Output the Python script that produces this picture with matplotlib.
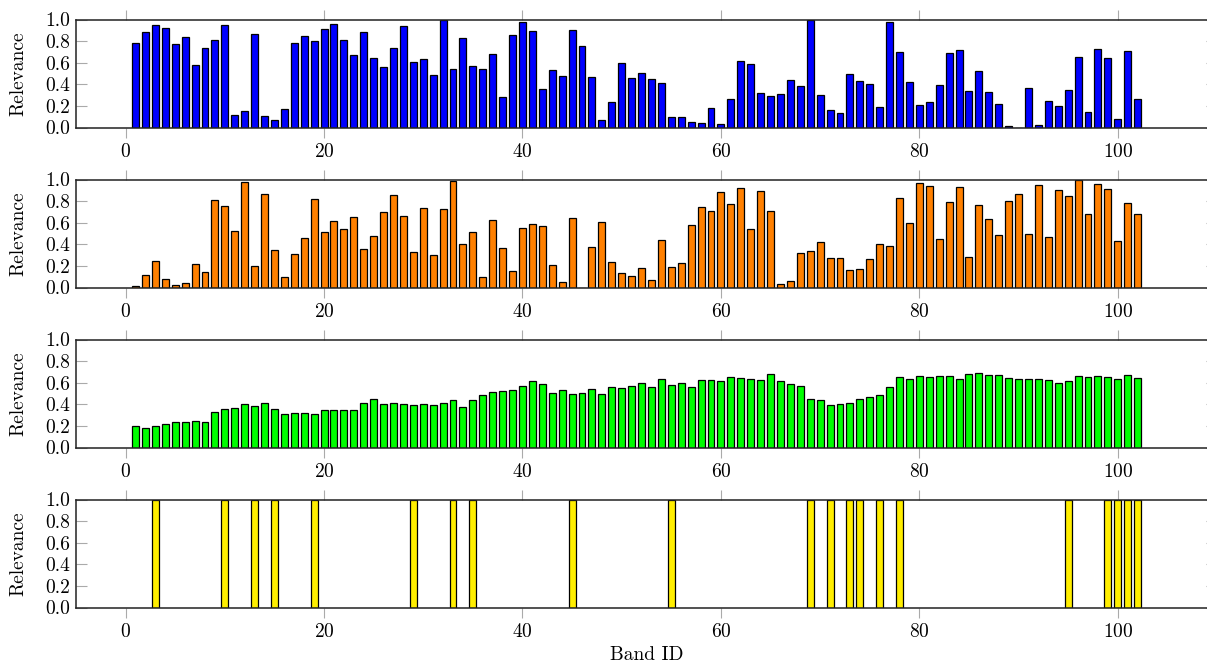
import matplotlib
matplotlib.use("Agg")
import matplotlib.pyplot as plt
import numpy as np

# band ids 1..102
band_ids = list(range(1, 103))

# relevance values
blue_vals = [0.78, 0.88, 0.95, 0.925, 0.77, 0.84, 0.58, 0.74, 0.81, 0.95,
             0.12, 0.156, 0.866, 0.11, 0.066, 0.17, 0.78, 0.85, 0.80, 0.91,
             0.96, 0.81, 0.67, 0.88, 0.64, 0.556, 0.74, 0.94, 0.61, 0.63,
             0.49, 1.0, 0.54, 0.825, 0.57, 0.54, 0.68, 0.28, 0.856, 0.98,
             0.89, 0.36, 0.53, 0.475, 0.906, 0.756, 0.47, 0.072, 0.24, 0.60,
             0.46, 0.506, 0.447, 0.41, 0.097, 0.094, 0.053, 0.04, 0.18, 0.028,
             0.26, 0.615, 0.588, 0.32, 0.29, 0.31, 0.44, 0.38, 1.0, 0.30,
             0.16, 0.134, 0.50, 0.43, 0.40, 0.19, 0.975, 0.70, 0.42, 0.21,
             0.234, 0.39, 0.69, 0.716, 0.34, 0.52, 0.33, 0.22, 0.013, 0.0,
             0.37, 0.025, 0.25, 0.20, 0.35, 0.656, 0.144, 0.725, 0.644, 0.081,
             0.71, 0.266]

orange_vals = [0.012, 0.12, 0.25, 0.08, 0.02, 0.04, 0.22, 0.14, 0.81, 0.754,
               0.526, 0.98, 0.20, 0.863, 0.346, 0.10, 0.31, 0.458, 0.82, 0.514,
               0.614, 0.545, 0.654, 0.358, 0.474, 0.70, 0.854, 0.664, 0.333, 0.735,
               0.30, 0.723, 0.99, 0.405, 0.51, 0.093, 0.626, 0.37, 0.153, 0.554,
               0.59, 0.567, 0.21, 0.053, 0.64, 0.0, 0.377, 0.607, 0.237, 0.13,
               0.11, 0.18, 0.07, 0.44, 0.19, 0.23, 0.58, 0.745, 0.71, 0.88,
               0.776, 0.92, 0.54, 0.89, 0.704, 0.03, 0.062, 0.32, 0.336, 0.417,
               0.274, 0.277, 0.16, 0.168, 0.262, 0.40, 0.386, 0.83, 0.595, 0.97,
               0.944, 0.445, 0.79, 0.93, 0.287, 0.763, 0.636, 0.486, 0.80, 0.87,
               0.495, 0.947, 0.467, 0.90, 0.844, 1.0, 0.68, 0.956, 0.913, 0.427,
               0.78, 0.676]

green_vals = [0.195, 0.18, 0.195, 0.22, 0.24, 0.24, 0.245, 0.24, 0.327, 0.358,
              0.37, 0.405, 0.384, 0.415, 0.36, 0.314, 0.324, 0.324, 0.314, 0.343,
              0.343, 0.35, 0.35, 0.415, 0.453, 0.40, 0.415, 0.405, 0.39, 0.40,
              0.396, 0.415, 0.437, 0.374, 0.44, 0.487, 0.51, 0.52, 0.53, 0.566,
              0.613, 0.585, 0.503, 0.53, 0.494, 0.503, 0.544, 0.50, 0.557, 0.553,
              0.566, 0.597, 0.557, 0.632, 0.575, 0.597, 0.557, 0.623, 0.623, 0.616,
              0.657, 0.64, 0.632, 0.623, 0.68, 0.616, 0.588, 0.566, 0.45, 0.437,
              0.393, 0.405, 0.415, 0.453, 0.469, 0.487, 0.563, 0.654, 0.632, 0.663,
              0.654, 0.663, 0.663, 0.638, 0.682, 0.689, 0.67, 0.67, 0.645, 0.638,
              0.632, 0.638, 0.623, 0.597, 0.616, 0.663, 0.651, 0.663, 0.651, 0.632,
              0.67, 0.645]

# selected bands (binary relevance)
selected_ids = [3, 10, 13, 15, 19, 29, 33, 35, 45, 55, 69, 71, 73, 74, 76, 78,
                95, 99, 100, 101, 102]
selected_vals = [1.0] * len(selected_ids)

xticks = [0, 20, 40, 60, 80, 100]
yticks = [0.0, 0.2, 0.4, 0.6, 0.8, 1.0]

plt.rcParams['font.family'] = 'serif'
plt.rcParams['font.serif'] = ['cmr10', 'DejaVu Serif']
plt.rcParams['axes.formatter.use_mathtext'] = True
plt.rcParams['font.size'] = 14

fig = plt.figure(figsize=(12.07, 6.66), dpi=100)

panels = [(band_ids, blue_vals, '#0000ff'),
          (band_ids, orange_vals, '#ff8000'),
          (band_ids, green_vals, '#00ff00'),
          (selected_ids, selected_vals, '#ffee00')]

W, H = 1207.0, 666.0
left_px = 76
width_px = 1141
tops_px = [19.5, 179.5, 339.5, 499.5]
height_px = 108

axes = []
for (ids, vals, col), top in zip(panels, tops_px):
    ax = fig.add_axes([left_px / W, 1 - (top + height_px) / H,
                       width_px / W, height_px / H])
    ax.bar(ids, vals, width=0.7, color=col, edgecolor='black', linewidth=0.9)
    ax.set_xlim(-5, 110)
    ax.set_ylim(0, 1)
    ax.set_xticks(xticks)
    ax.set_yticks(yticks)
    ax.set_yticklabels(['%.1f' % v for v in yticks])
    ax.tick_params(axis='x', direction='out', length=7, color='#aaaaaa',
                   width=0.8, top=True, labelsize=14, pad=4)
    ax.tick_params(axis='y', direction='in', length=8, color='#aaaaaa',
                   width=0.8, right=True, labelsize=14, pad=4)
    for s in ax.spines.values():
        s.set_linewidth(1.1)
        s.set_color('#222222')
    ax.set_ylabel('Relevance', fontsize=14)
    axes.append(ax)

axes[-1].set_xlabel('Band ID', fontsize=14, labelpad=4)

for ax in axes:
    ax.yaxis.set_label_coords(-0.043, 0.5)

fig.savefig('out.png', dpi=100)
